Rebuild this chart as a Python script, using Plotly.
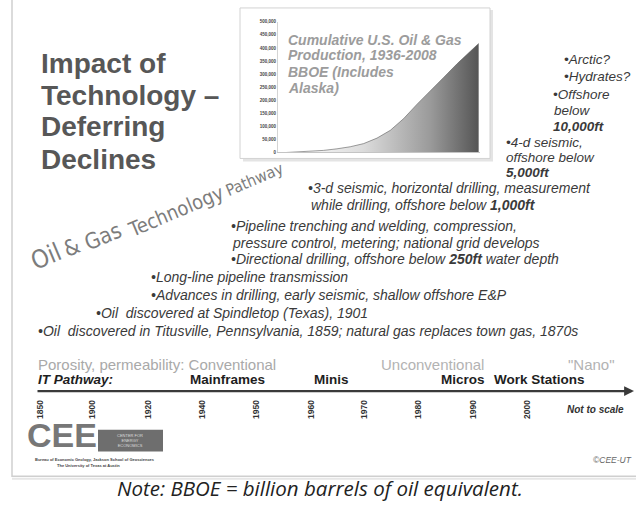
import plotly.graph_objects as go

W, H = 636, 506
SANS = "Liberation Sans, Arial, sans-serif"
COND = "DejaVu Sans Condensed, Liberation Sans Narrow, Arial Narrow, sans-serif"

# ---------------- data ----------------
# Cumulative U.S. oil & gas production (BBOE)
prod_years = [1936, 1940, 1945, 1950, 1955, 1960, 1965, 1970, 1975, 1980,
              1985, 1990, 1995, 2000, 2005, 2008]
cum_bboe = [0, 1500, 4000, 8000, 14000, 22000, 34000, 55000, 85000, 130000,
            185000, 235000, 288000, 340000, 390000, 417000]
y_ticks = [0, 50000, 100000, 150000, 200000, 250000, 300000, 350000,
           400000, 450000, 500000]

inset_title = ["Cumulative U.S. Oil & Gas", "Production, 1936-2008",
               "BBOE (Includes", "Alaska)"]
main_title = ["Impact of", "Technology \u2013", "Deferring", "Declines"]
pathway_words = ["Oil", "&", "Gas", "Technology", "Pathway"]

milestones = [
    "\u20223-d seismic, horizontal drilling, measurement",
    "while drilling, offshore below <b>1,000ft</b>",
    "\u2022Pipeline trenching and welding, compression,",
    "pressure control, metering; national grid develops",
    "\u2022Directional drilling, offshore below <b>250ft</b> water depth",
    "\u2022Long-line pipeline transmission",
    "\u2022Advances in drilling, early seismic, shallow offshore E&P",
    "\u2022Oil  discovered at Spindletop (Texas), 1901",
    "\u2022Oil  discovered in Titusville, Pennsylvania, 1859; natural gas replaces town gas, 1870s",
]
frontier = ["\u2022Arctic?", "\u2022Hydrates?", "\u2022Offshore", "below",
            "<b>10,000ft</b>", "\u20224-d seismic,", "offshore below", "<b>5,000ft</b>"]

reservoir_eras = ["Porosity, permeability: Conventional", "Unconventional", "\"Nano\""]
it_pathway = ["Mainframes", "Minis", "Micros", "Work Stations"]
timeline_years = ["1850", "1900", "1920", "1940", "1950", "1960", "1970",
                  "1980", "1990", "2000"]

# ---------------- layout positions (pixels) ----------------
def px(x):
    return x / W

def py(y):
    return 1 - y / H

fig = go.Figure()

fig.add_trace(go.Scatter(
    x=prod_years, y=cum_bboe, mode="lines",
    line=dict(width=0.6, color="#5e5e5e"),
    fill="tozeroy",
    fillgradient=dict(type="horizontal",
                      colorscale=[[0, "#ffffff"], [0.4, "#dcdcdc"],
                                  [0.75, "#9a9a9a"], [1, "#555555"]]),
    hoverinfo="skip", showlegend=False))

shapes = []
# slide frame
shapes.append(dict(type="rect", xref="paper", yref="paper",
                   x0=px(12), x1=px(700), y0=py(479), y1=py(-20),
                   line=dict(color="#cfcfcf", width=1.5), layer="below"))
shapes.append(dict(type="line", xref="paper", yref="paper",
                   x0=px(12), x1=px(700), y0=py(481.5), y1=py(481.5),
                   line=dict(color="#e6e6e6", width=2), layer="below"))
# inset box with shadow
shapes.append(dict(type="rect", xref="paper", yref="paper",
                   x0=px(243), x1=px(493), y0=py(161), y1=py(8),
                   line=dict(width=0), fillcolor="#e4e4e4", layer="below"))
shapes.append(dict(type="rect", xref="paper", yref="paper",
                   x0=px(240), x1=px(490), y0=py(158), y1=py(6),
                   line=dict(color="#d2d2d2", width=1), fillcolor="#ffffff",
                   layer="below"))
# CEE logo dark block
shapes.append(dict(type="rect", xref="paper", yref="paper",
                   x0=px(98), x1=px(163), y0=py(454), y1=py(432),
                   line=dict(width=0), fillcolor="#6e6e6e", layer="below"))

annotations = []

def txt(s, x, y, size=12, color="#3c3c3c", italic=False, bold=False,
        xanchor="left", yanchor="middle", angle=0, family=SANS):
    annotations.append(dict(
        text=s, x=px(x), y=py(y), xref="paper", yref="paper",
        xanchor=xanchor, yanchor=yanchor, showarrow=False, textangle=angle,
        borderpad=0,
        font=dict(size=size, color=color, family=family,
                  style="italic" if italic else "normal",
                  weight=700 if bold else 400)))

# main title
for s, y in zip(main_title, [62, 94, 126, 159]):
    txt(s, 40, y, size=28, color="#575757", bold=True)

# inset title
for s, y in zip(inset_title, [38, 54, 71, 87]):
    txt(s, 287, y, size=14, color="#9c9c9c", italic=True, bold=True)

# rotated pathway words (shrinking, as in the perspective lettering)
word_pos = [(46, 257), (71, 248), (103, 237), (176, 211), (254, 179)]
word_size = [25, 22, 22, 20, 16]
for s, (x, y), sz in zip(pathway_words, word_pos, word_size):
    txt(s, x, y, size=sz, color="#7c7c7c", xanchor="center", angle=-23,
        family=COND)

# milestones
ms_pos = [(307, 188), (310, 205), (230, 226), (231, 243), (230, 260),
          (150, 278), (150, 296), (95, 314), (37, 332)]
for s, (x, y) in zip(milestones, ms_pos):
    txt(s, x, y, size=14, color="#3a3a3a", italic=True)

fr_pos = [(563, 58), (563, 75), (552, 93), (553, 110), (552, 126),
          (505, 142), (505, 157), (505, 172)]
for s, (x, y) in zip(frontier, fr_pos):
    txt(s, x, y, size=13.5, color="#3a3a3a", italic=True)

# timeline
for s, x, c in zip(reservoir_eras, [37, 380, 567], ["#a9a9a9", "#b3b3b3", "#b3b3b3"]):
    txt(s, x, 366, size=15, color=c)
txt("IT Pathway:", 37, 381, size=13.5, color="#1e1e1e", italic=True, bold=True)
for s, x in zip(it_pathway, [189, 313, 440, 493]):
    txt(s, x, 381, size=13.5, color="#1e1e1e", bold=True)

annotations.append(dict(
    x=px(634), y=py(393), ax=-598, ay=0, xref="paper", yref="paper",
    axref="pixel", ayref="pixel", text="", showarrow=True, arrowhead=2,
    arrowsize=0.9, arrowwidth=2.2, arrowcolor="#3a3a3a"))

for s, x in zip(timeline_years, [40, 92, 148, 202, 256, 311, 364, 418, 473, 527]):
    txt(s, x, 412, size=8.5, color="#333333", bold=True, xanchor="center",
        angle=-90)
txt("Not to scale", 566, 412, size=10, color="#333333", italic=True, bold=True)

# logo & credits
txt("CEE", 26, 458, size=34, color="#777777", bold=True, yanchor="bottom")
txt("CENTER FOR<br>ENERGY<br>ECONOMICS", 130, 443, size=4, color="#dddddd",
    xanchor="center")
txt("Bureau of Economic Geology, Jackson School of Geosciences", 95, 458.5,
    size=4, color="#444444", bold=True, xanchor="center", yanchor="top")
txt("The University of Texas at Austin", 88, 464.5, size=4, color="#444444",
    bold=True, xanchor="center", yanchor="top")
txt("\u00a9CEE-UT", 633, 463, size=8.5, color="#666666", italic=True,
    xanchor="right")

# note
txt("Note: BBOE = billion barrels of oil equivalent.", 320, 491, size=20.5,
    color="#222222", italic=True, xanchor="center",
    family="Open Sans, Liberation Sans, sans-serif")

fig.update_layout(
    width=W, height=H, margin=dict(l=0, r=0, t=0, b=0),
    paper_bgcolor="#ffffff", plot_bgcolor="rgba(0,0,0,0)",
    showlegend=False, shapes=shapes, annotations=annotations,
    xaxis=dict(domain=[px(278), px(480)], range=[1933, 2008.5],
               showticklabels=False, showgrid=False, zeroline=False,
               showline=True, linecolor="#c4c4c4", linewidth=1, ticks=""),
    yaxis=dict(domain=[py(152), py(20)], range=[0, 500000],
               tickvals=y_ticks, tickformat=",d", showgrid=False,
               zeroline=False, showline=True, linecolor="#d4d4d4",
               linewidth=1, ticks="",
               tickfont=dict(size=4.5, color="#444444", family=SANS,
                             weight=700)),
)

fig.write_html("out.html", config={"displayModeBar": False},
               post_script="document.body.style.margin='0';")
